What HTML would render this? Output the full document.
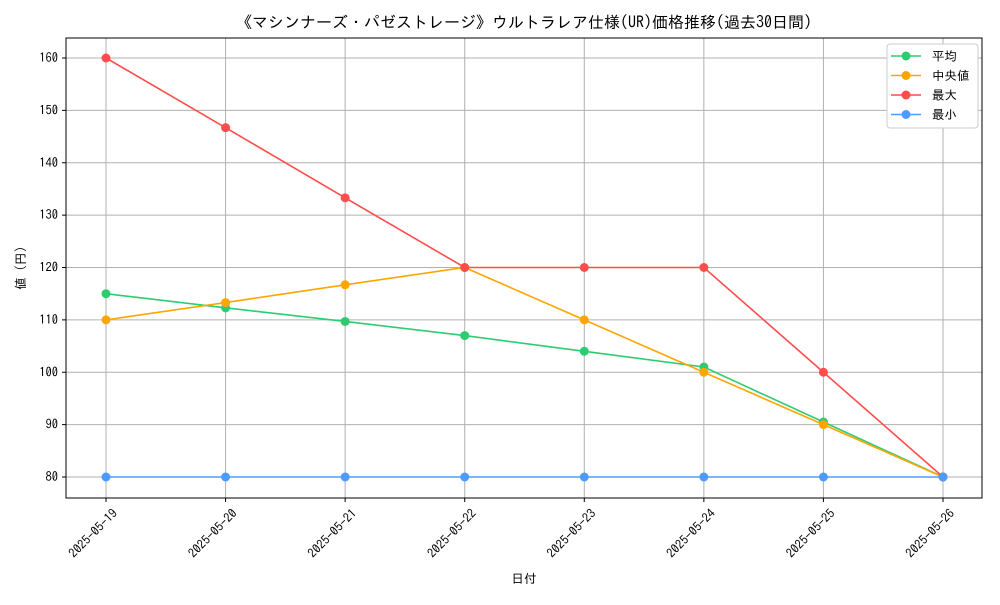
<!DOCTYPE html>
<html><head><meta charset="utf-8"><style>
body{margin:0;background:#fff}
svg text{font-family:"IPAGothic","Noto Sans CJK JP",sans-serif;fill:#000}
</style></head><body>
<svg id="chart" width="1000" height="600" xmlns="http://www.w3.org/2000/svg">
<text x="524" y="28" font-size="16" text-anchor="middle">《マシンナーズ・パゼストレージ》ウルトラレア仕様(UR)価格推移(過去30日間)</text>
<g id="grid"></g><g id="axes"></g><g id="series"></g>
<text x="524" y="583" font-size="12.5" text-anchor="middle">日付</text>
<text transform="translate(25,268) rotate(-90)" font-size="12.5" text-anchor="middle">値 (円)</text>
<g>
<rect x="887" y="44" width="91" height="84" fill="#fff" stroke="#ccc" rx="3"/>
<g id="legend"></g>
</g>
</svg>
<script>
const categories=["2025-05-19","2025-05-20","2025-05-21","2025-05-22","2025-05-23","2025-05-24","2025-05-25","2025-05-26"];
const avgValues=[115,112.3,109.7,107,104,101,90.5,80];
const medianValues=[110,113.3,116.7,120,110,100,90,80];
const maxValues=[160,146.7,133.3,120,120,120,100,80];
const minValues=[80,80,80,80,80,80,80,80];
const yTicks=[80,90,100,110,120,130,140,150,160];
const seriesNames=["平均","中央値","最大","最小"];
const L=66,R=982,T=38,B=498;
const NS="http://www.w3.org/2000/svg";
function xs(i){return 106+i*(943-106)/(categories.length-1);}
function ys(v){return 477-(v-80)*(477-58)/80;}
function mk(tag,attrs,parent){const e=document.createElementNS(NS,tag);for(const k in attrs)e.setAttribute(k,attrs[k]);parent.appendChild(e);return e;}
const grid=document.getElementById('grid'),axes=document.getElementById('axes'),ser=document.getElementById('series'),leg=document.getElementById('legend');
categories.forEach((c,i)=>{
 const g=mk('line',{x1:xs(i),x2:xs(i),y1:T,y2:B,stroke:'#b0b0b0','stroke-width':1},grid);
 
 
 mk('line',{x1:xs(i),x2:xs(i),y1:B,y2:B+4,stroke:'#000'},axes);
 const t=mk('text',{transform:`translate(${xs(i)+6},${B+10}) rotate(-45)`,'font-size':12.5,'text-anchor':'end','dominant-baseline':'hanging'},axes);
 t.textContent=c;
 
 
});
yTicks.forEach(v=>{
 const g=mk('line',{x1:L,x2:R,y1:ys(v),y2:ys(v),stroke:'#b0b0b0','stroke-width':1},grid);
 
 
 mk('line',{x1:L-4,x2:L,y1:ys(v),y2:ys(v),stroke:'#000'},axes);
 const t=mk('text',{x:L-8,y:ys(v)+4,'font-size':12.5,'text-anchor':'end'},axes);
 t.textContent=v;
 
 
});
const fr=mk('rect',{x:L,y:T,width:R-L,height:B-T,fill:'none',stroke:'#000','stroke-width':1},axes);


const all=[avgValues,medianValues,maxValues,minValues];
const colors=["#2ecc71","#ffa500","#ff4c4c","#4c9cff"];
const keys=["avg","median","max","min"];
all.forEach((vals,s)=>{
 const g=mk('g',{},ser);
 
 
 mk('polyline',{points:vals.map((v,i)=>xs(i)+','+ys(v)).join(' '),fill:'none',stroke:colors[s],'stroke-width':1.6},g);
 vals.forEach((v,i)=>{
  const p=mk('circle',{cx:xs(i),cy:ys(v),r:4.5,fill:colors[s]},g);
  
  
 });
 const y=56+s*19.5;
 const le=mk('g',{},leg);
 
 
 mk('line',{x1:891,x2:921,y1:y,y2:y,stroke:colors[s],'stroke-width':1.6},le);
 mk('circle',{cx:906,cy:y,r:4.5,fill:colors[s]},le);
 const t=mk('text',{x:932,y:y+4.5,'font-size':12.5},le);
 t.textContent=(s==1?' ':'')+seriesNames[s];
});
</script>
</body></html>
